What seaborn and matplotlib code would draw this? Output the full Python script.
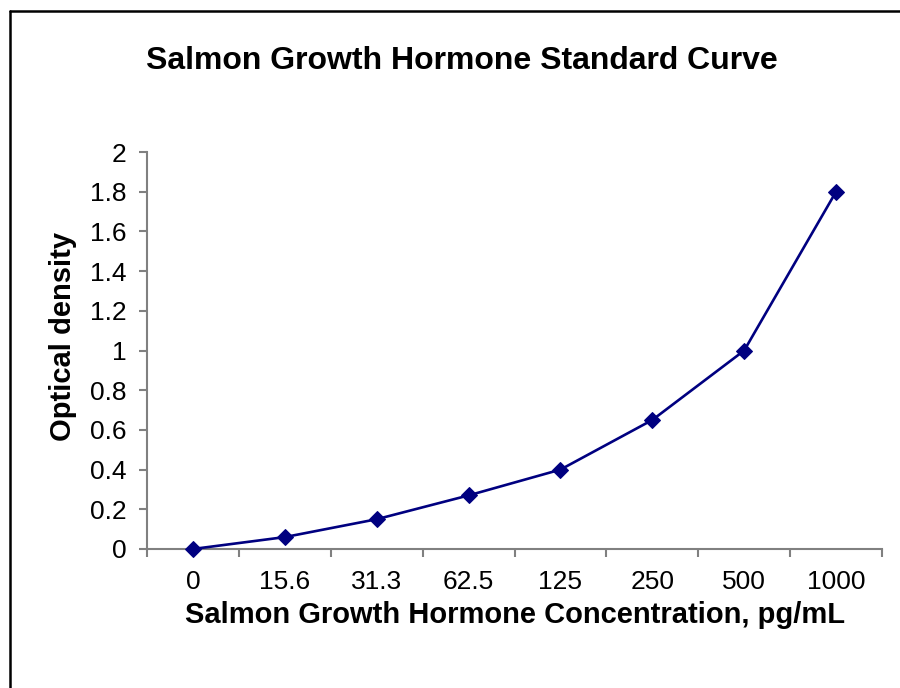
import matplotlib
matplotlib.use('Agg')
import matplotlib.pyplot as plt
from matplotlib.lines import Line2D
from matplotlib.ticker import FuncFormatter
import numpy as np
import pandas as pd
import seaborn as sns

# Data
concentration = ['0', '15.6', '31.3', '62.5', '125', '250', '500', '1000']
optical_density = [0.0, 0.06, 0.15, 0.27, 0.40, 0.65, 1.00, 1.80]

df = pd.DataFrame({'pos': np.arange(len(concentration)),
                   'od': optical_density})

sns.set_style('white')
plt.rcParams['font.family'] = ['Liberation Sans', 'DejaVu Sans']
plt.rcParams['text.color'] = 'black'
plt.rcParams['xtick.color'] = 'black'
plt.rcParams['ytick.color'] = 'black'

fig = plt.figure(figsize=(9, 6.88), dpi=100)
ax = fig.add_axes([147 / 900, 1 - 549 / 688, (882 - 147) / 900, (549 - 152) / 688])

sns.lineplot(data=df, x='pos', y='od', ax=ax, color='#000080',
             linewidth=1.9, marker='D', markersize=8,
             markeredgecolor='#000080', markerfacecolor='#000080',
             clip_on=False, zorder=5)

grey = '#808080'
ax.set_xlim(-0.5, len(concentration) - 0.5)
ax.set_ylim(0, 2)
ax.set_yticks(np.arange(0, 2.01, 0.2))
ax.yaxis.set_major_formatter(FuncFormatter(lambda v, p: f'{v:g}'))

# category boundaries as ticks, labels at centres
ax.set_xticks(np.arange(-0.5, len(concentration), 1.0))
ax.set_xticklabels([])
ax.set_xticks(np.arange(len(concentration)), minor=True)
ax.set_xticklabels(concentration, minor=True)
ax.tick_params(axis='x', which='major', direction='out', length=6,
               width=1.5, color=grey, bottom=True)
ax.tick_params(axis='x', which='minor', length=0, pad=15, labelsize=19,
               labelcolor='black')
ax.tick_params(axis='y', direction='out', length=6, width=1.5,
               color=grey, left=True, pad=9, labelsize=19, labelcolor='black')

for side in ['top', 'right']:
    ax.spines[side].set_visible(False)
for side in ['left', 'bottom']:
    ax.spines[side].set_color(grey)
    ax.spines[side].set_linewidth(1.5)

ax.set_xlabel('')
ax.set_ylabel('')

fig.text(462 / 900, 1 - 61 / 688, 'Salmon Growth Hormone Standard Curve',
         ha='center', va='center', fontsize=23, fontweight='bold', color='black')
fig.text(515 / 900, 1 - 615 / 688, 'Salmon Growth Hormone Concentration, pg/mL',
         ha='center', va='center', fontsize=21, fontweight='bold', color='black')
fig.text(63 / 900, 1 - 336 / 688, 'Optical density', rotation=90,
         ha='center', va='center', fontsize=21, fontweight='bold', color='black')

# chart border (cut off at right and bottom in the reference)
fig.add_artist(Line2D([9.5 / 900, 9.5 / 900], [0, 1 - 11 / 688],
                      color='black', linewidth=1.8))
fig.add_artist(Line2D([9.5 / 900, 1], [1 - 11 / 688, 1 - 11 / 688],
                      color='black', linewidth=1.8))

fig.savefig('out.png', dpi=100)
